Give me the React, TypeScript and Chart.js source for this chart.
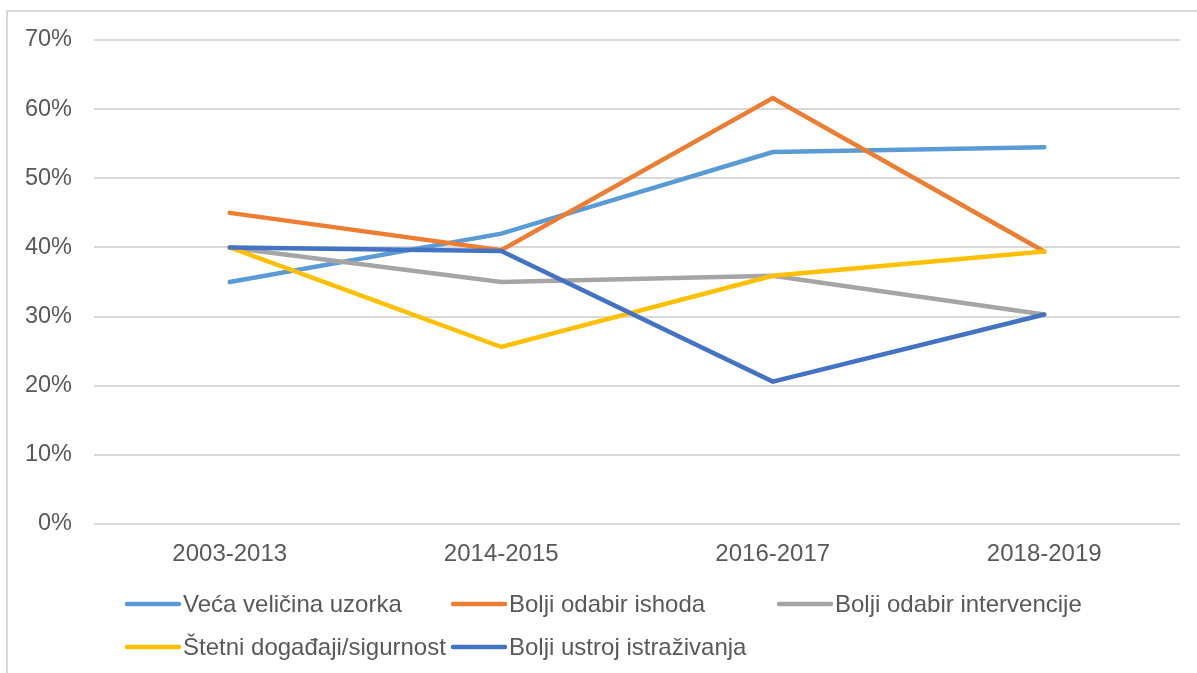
import React, { useEffect, useRef } from "react";
import { Chart, registerables } from "chart.js";

Chart.register(...registerables);

const categories = ["2003-2013", "2014-2015", "2016-2017", "2018-2019"];
const seriesNames = [
  "Veća veličina uzorka",
  "Bolji odabir ishoda",
  "Bolji odabir intervencije",
  "Štetni događaji/sigurnost",
  "Bolji ustroj istraživanja",
];
const vecaVelicinaUzorka = [35, 42, 53.8, 54.5];
const boljiOdabirIshoda = [45, 39.6, 61.6, 39.4];
const boljiOdabirIntervencije = [40, 35, 35.9, 30.3];
const stetniDogadaji = [40, 25.6, 35.9, 39.4];
const boljiUstroj = [40, 39.5, 20.6, 30.3];
const seriesColors = ["#5B9BD5", "#ED7D31", "#A5A5A5", "#FFC000", "#4472C4"];
const yMax = 70;
const yStep = 10;

const FONT = "'Liberation Sans', Arial, sans-serif";
const TEXT = "#595959";

const frameAndLegend = {
  id: "frameAndLegend",
  beforeDraw(chart: any) {
    const ctx = chart.ctx;
    ctx.save();
    ctx.strokeStyle = "#d9d9d9";
    ctx.lineWidth = 2;
    ctx.beginPath();
    ctx.moveTo(7, chart.height + 2);
    ctx.lineTo(7, 11);
    ctx.lineTo(chart.width + 2, 11);
    ctx.stroke();
    ctx.restore();
  },
  afterDraw(chart: any) {
    const ctx = chart.ctx;
    ctx.save();
    ctx.font = `24px ${FONT}`;
    ctx.textBaseline = "middle";
    ctx.textAlign = "left";
    const startX = 125;
    const colW = 326;
    const rowY = [604, 647];
    const lineLen = 56;
    chart.data.datasets.forEach((ds: any, i: number) => {
      const col = i % 3;
      const row = Math.floor(i / 3);
      const x = startX + col * colW;
      const y = rowY[row];
      ctx.strokeStyle = ds.borderColor;
      ctx.lineWidth = 4.5;
      ctx.lineCap = "round";
      ctx.beginPath();
      ctx.moveTo(x + 2, y);
      ctx.lineTo(x + lineLen - 2, y);
      ctx.stroke();
      ctx.fillStyle = TEXT;
      ctx.fillText(ds.label, x + lineLen + 2, y + 1);
    });
    ctx.restore();
  },
};

export default function App() {
  const ref = useRef<HTMLCanvasElement | null>(null);
  useEffect(() => {
    if (!ref.current) return;
    const values = [
      vecaVelicinaUzorka,
      boljiOdabirIshoda,
      boljiOdabirIntervencije,
      stetniDogadaji,
      boljiUstroj,
    ];
    const chart = new Chart(ref.current, {
      type: "line",
      data: {
        labels: categories,
        datasets: values.map((v, i) => ({
          label: seriesNames[i],
          data: v,
          borderColor: seriesColors[i],
          backgroundColor: seriesColors[i],
          borderWidth: 4.5,
          borderCapStyle: "round",
          borderJoinStyle: "miter",
          pointRadius: 0,
          tension: 0,
          fill: false,
          order: values.length - i,
        })),
      },
      options: {
        animation: false,
        responsive: false,
        maintainAspectRatio: false,
        layout: { padding: { left: 0, right: 17, top: 40, bottom: 89 } },
        plugins: {
          legend: { display: false },
          tooltip: { enabled: false },
        },
        scales: {
          x: {
            offset: true,
            grid: { display: false },
            border: { display: false },
            ticks: {
              color: TEXT,
              font: { family: FONT, size: 24 },
              padding: 8,
              maxRotation: 0,
            },
            afterFit: (s: any) => {
              s.height = 60;
            },
          },
          y: {
            min: 0,
            max: yMax,
            grid: { color: "#d9d9d9", lineWidth: 2, drawTicks: false },
            border: { display: false },
            ticks: {
              stepSize: yStep,
              color: TEXT,
              font: { family: FONT, size: 23.5 },
              padding: 22,
              callback: (v: any) => `${v}%`,
            },
            afterFit: (s: any) => {
              s.width = 94;
            },
          },
        },
      },
      plugins: [frameAndLegend],
    });
    return () => chart.destroy();
  }, []);
  return (
    <div style={{ position: "absolute", left: 0, top: 0, width: 1197, height: 673, background: "#fff" }}>
      <canvas ref={ref} width={1197} height={673} style={{ display: "block" }} />
    </div>
  );
}
